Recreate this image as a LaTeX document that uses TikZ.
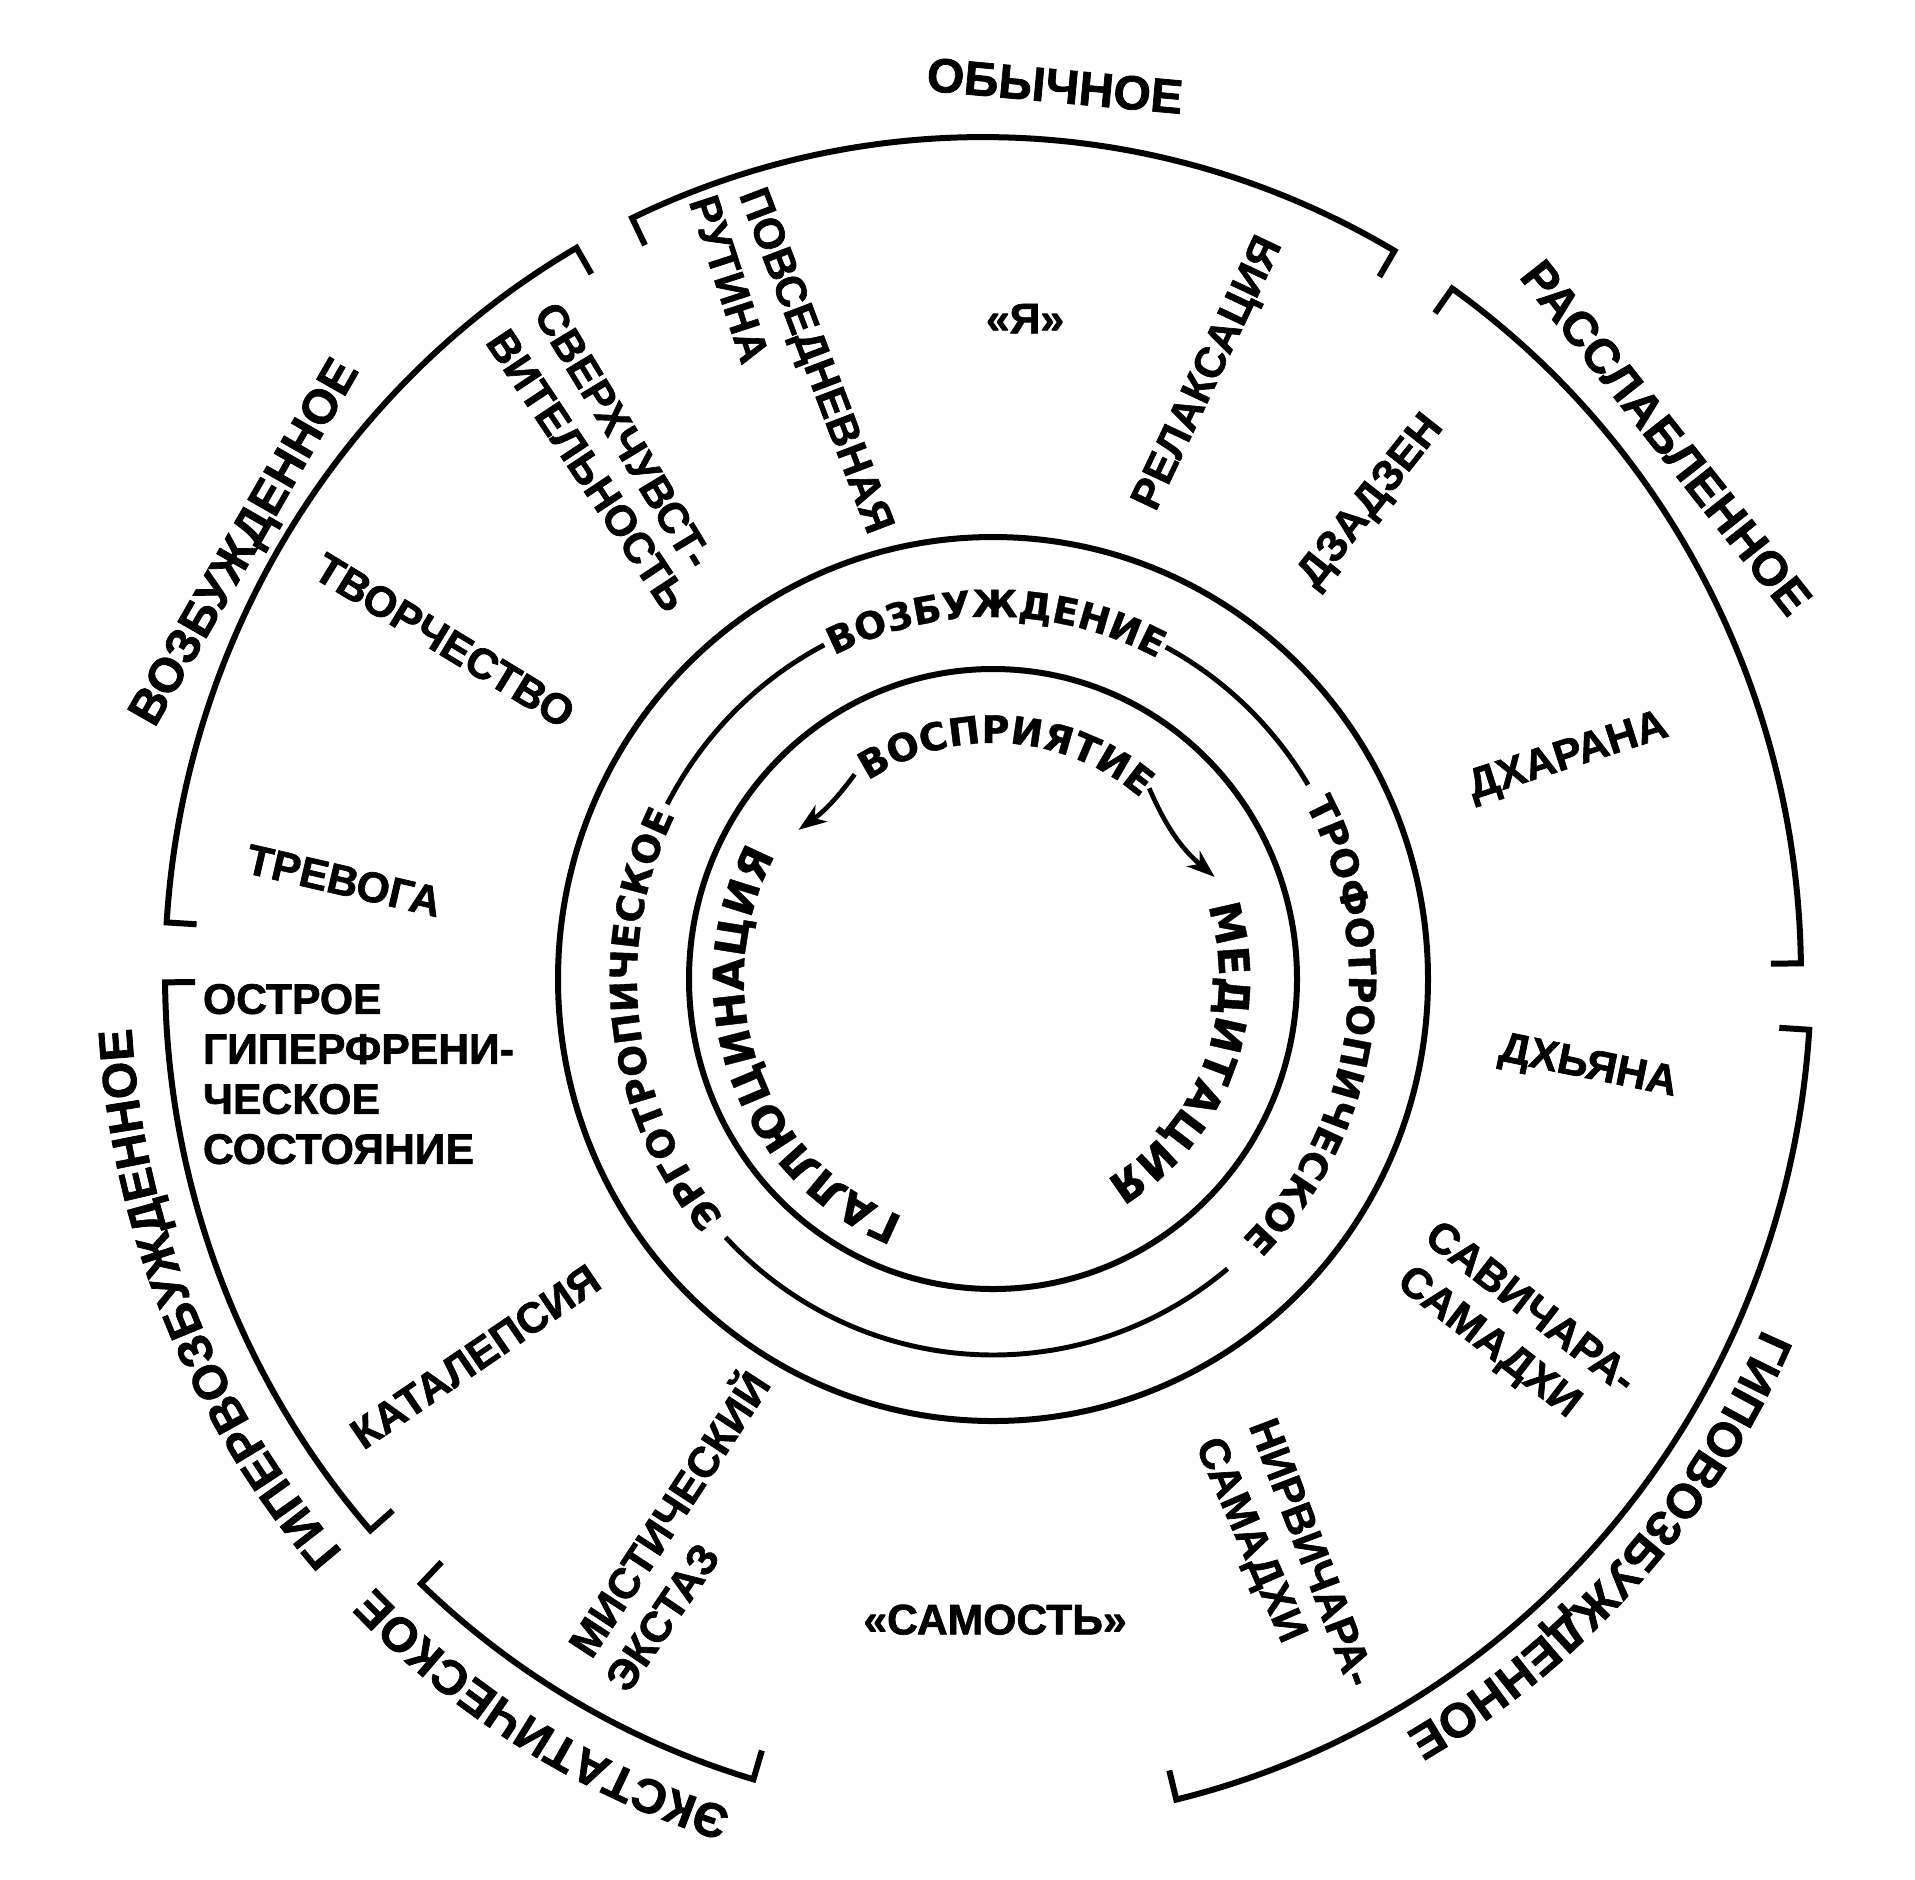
\documentclass[tikz,border=0pt]{standalone}
\usepackage{fontspec}
\setmainfont{Liberation Sans}
\newfontfamily\labelfam{Liberation Sans Bold}[FakeBold=1.5]
\newfontfamily\widefam{DejaVu Sans Bold}[FakeBold=1]
\usetikzlibrary{decorations.text,arrows.meta}

\newcommand\outerfont{\labelfam\fontsize{36}{43}\selectfont}
\newcommand\innerfont{\labelfam\fontsize{32}{37.5}\selectfont}
\newcommand\ringfont{\widefam\fontsize{28}{34}\selectfont}
\newcommand\percfont{\widefam\fontsize{28.5}{34}\selectfont}
\newcommand\corefont{\widefam\fontsize{32}{38}\selectfont}

\tikzset{every picture/.style={line width=4.5pt}}
\tikzset{
	lbl/.style={font=\innerfont, inner sep=0pt, text height=23pt, text depth=0pt},
	state lbl/.style={font=\outerfont, inner sep=0pt, text height=26pt, text depth=0pt},
	ring text/.style={decorate, decoration={text along path, text align=center, text={#1}}},
	perc arrow/.style={line width=3.5pt, -{Stealth[length=21pt, width=15pt, inset=6pt]}}}

\begin{document}
\begin{tikzpicture}[x=0.75pt,y=0.75pt,yscale=-1,xscale=1]
	\useasboundingbox (0,0) rectangle (1915,1879);

	%Shape: Arc (obychnoe)
	\draw [shift={(983,975)}] (-115.4:788 and 808) -- (-115.4:818 and 838) arc [start angle=-115.4, end angle=-59.8, x radius=818, y radius=838] -- (-59.8:788 and 808) ;
	%Shape: Arc (rasslablennoe)
	\draw [shift={(983,975)}] (-55:788 and 808) -- (-55:818 and 838) arc [start angle=-55, end angle=-0.8, x radius=818, y radius=838] -- (-0.8:788 and 808) ;
	%Shape: Arc (gipovozbuzhdennoe)
	\draw [shift={(983,975)}] (3.7:798 and 818) -- (3.7:828 and 848) arc [start angle=3.7, end angle=76.5, x radius=828, y radius=848] -- (76.5:798 and 818) ;
	%Shape: Arc (ekstaticheskoe)
	\draw [shift={(983,975)}] (106.3:788 and 808) -- (106.3:818 and 838) arc [start angle=106.3, end angle=133.4, x radius=818, y radius=838] -- (133.4:788 and 808) ;
	%Shape: Arc (gipervozbuzhdennoe)
	\draw [shift={(983,975)}] (138.5:788 and 808) -- (138.5:818 and 838) arc [start angle=138.5, end angle=179.5, x radius=818, y radius=838] -- (179.5:788 and 808) ;
	%Shape: Arc (vozbuzhdennoe)
	\draw [shift={(983,975)}] (183.6:788 and 808) -- (183.6:818 and 838) arc [start angle=183.6, end angle=240.2, x radius=818, y radius=838] -- (240.2:788 and 808) ;

	%Shape: Circle
	\draw (993,979) ellipse [x radius=435, y radius=442] ;
	%Shape: Circle
	\draw (993,979) ellipse [x radius=304, y radius=310] ;
	%Curve Lines
	\draw [line width=3.7pt, shift={(993,979)}] (207.7:368 and 376) arc [start angle=207.7, end angle=242.7, x radius=368, y radius=376] ;
	%Curve Lines
	\draw [line width=3.7pt, shift={(993,979)}] (-62:368 and 376) arc [start angle=-62, end angle=-31.1, x radius=368, y radius=376] ;
	%Curve Lines
	\draw [line width=3.7pt, shift={(993,979)}] (50.4:368 and 376) arc [start angle=50.4, end angle=136.6, x radius=368, y radius=376] ;

	% Text Node
	\draw (1055,85) node (usual) [state lbl, rotate=-5.2] {ОБЫЧНОЕ};
	% Text Node
	\draw (1667,437) node (relaxed) [state lbl, rotate=-51.7] {РАССЛАБЛЕННОЕ};
	% Text Node
	\draw (242,541) node (aroused) [state lbl, rotate=60.2] {ВОЗБУЖДЕННОЕ};
	% Text Path
	\path [shift={(983,975)}, ring text={|\outerfont|ГИПОВОЗБУЖДЕННОЕ}] (12:853 and 873) arc [start angle=12, end angle=72.4, x radius=853, y radius=873] ;
	% Text Path
	\path [shift={(983,975)}, ring text={|\outerfont|ЭКСТАТИЧЕСКОЕ}] (91.2:853 and 873) arc [start angle=91.2, end angle=151.2, x radius=853, y radius=873] ;
	% Text Path
	\path [shift={(983,975)}, ring text={|\outerfont|ГИПЕРВОЗБУЖДЕННОЕ}] (127.5:853 and 873) arc [start angle=127.5, end angle=187.5, x radius=853, y radius=873] ;

	% Text Path
	\path [shift={(993,979)}, ring text={|\ringfont|ВОЗБУЖДЕНИЕ}] (-129.5:354 and 362) arc [start angle=-129.5, end angle=-49.5, x radius=354, y radius=362] ;
	% Text Path
	\path [shift={(993,979)}, ring text={|\ringfont|ТРОФОТРОПИЧЕСКОЕ}] (-41.5:356 and 364) arc [start angle=-41.5, end angle=58.5, x radius=356, y radius=364] ;
	% Text Path
	\path [shift={(993,979)}, ring text={|\ringfont|ЭРГОТРОПИЧЕСКОЕ}] (122.9:356 and 364) arc [start angle=122.9, end angle=222.9, x radius=356, y radius=364] ;
	% Text Path
	\path [shift={(993,979)}, ring text={|\percfont|ВОСПРИЯТИЕ}] (-136.5:230 and 236) arc [start angle=-136.5, end angle=-36.5, x radius=230, y radius=236] ;
	% Text Path
	\path [shift={(993,979)}, ring text={|\corefont|ГАЛЛЮЦИНАЦИЯ}] (100:249 and 255) arc [start angle=100, end angle=220, x radius=249, y radius=255] ;
	% Text Path
	\path [shift={(993,979)}, ring text={|\corefont|МЕДИТАЦИЯ}] (-39:226 and 232) arc [start angle=-39, end angle=81, x radius=226, y radius=232] ;

	%Curve Lines
	\path [shift={(993,979)}] (235.3:243 and 249) coordinate (percL) (216.8:243 and 249) coordinate (halluc) (-50:243 and 249) coordinate (percR) (-24.2:243 and 249) coordinate (medit) ;
	\draw [perc arrow] (percL) to [bend right=9] (halluc) ;
	\draw [perc arrow] (percR) to [bend left=13] (medit) ;

	% Text Node
	\draw (1025,318) node (ego) [lbl] {«Я»};
	% Text Node
	\draw (818,360) node (routine1) [lbl, rotate=-69.2] {ПОВСЕДНЕВНАЯ};
	% Text Node
	\draw (730,279) node (routine2) [lbl, rotate=-72] {РУТИНА};
	% Text Node
	\draw (624,435) node (sens1) [lbl, rotate=-58.8] {СВЕРХЧУВСТ-};
	% Text Node
	\draw (588,470) node (sens2) [lbl, rotate=-56.4] {ВИТЕЛЬНОСТЬ};
	% Text Node
	\draw (445,640) node (creat) [lbl, rotate=-31.3] {ТВОРЧЕСТВО};
	% Text Node
	\draw (344,880) node (anx) [lbl, rotate=-13] {ТРЕВОГА};
	% Text Node
	\draw (200,981) node (acute) [font=\innerfont, inner sep=0pt, align=left, anchor=north west] {ОСТРОЕ\\ГИПЕРФРЕНИ-\\ЧЕСКОЕ\\СОСТОЯНИЕ};
	% Text Node
	\draw (475,1356) node (catal) [lbl, rotate=34.3] {КАТАЛЕПСИЯ};
	% Text Node
	\draw (669,1514) node (myst1) [lbl, rotate=56.8] {МИСТИЧЕСКИЙ};
	% Text Node
	\draw (662,1617) node (myst2) [lbl, rotate=55.8] {ЭКСТАЗ};
	% Text Node
	\draw (995,1619) node (self) [lbl] {«САМОСТЬ»};
	% Text Node
	\draw (1313,1552) node (nirv1) [lbl, rotate=-69.2] {НИРВИЧАРА-};
	% Text Node
	\draw (1253,1539) node (nirv2) [lbl, rotate=-66.4] {САМАДХИ};
	% Text Node
	\draw (1532,1306) node (sav1) [lbl, rotate=-37.7] {САВИЧАРА-};
	% Text Node
	\draw (1491,1340) node (sav2) [lbl, rotate=-37.7] {САМАДХИ};
	% Text Node
	\draw (1589,1063) node (dhy) [lbl, rotate=-11.5] {ДХЬЯНА};
	% Text Node
	\draw (1567,753) node (dha) [lbl, rotate=17.9] {ДХАРАНА};
	% Text Node
	\draw (1368,499) node (zaz) [lbl, rotate=51.7] {ДЗАДЗЕН};
	% Text Node
	\draw (1205,372) node (relax) [lbl, rotate=64.7] {РЕЛАКСАЦИЯ};

\end{tikzpicture}
\end{document}
